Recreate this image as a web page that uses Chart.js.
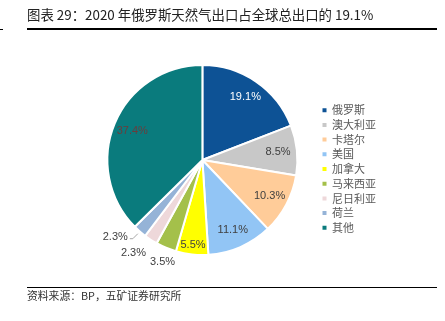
<!DOCTYPE html>
<html>
<head>
<meta charset="utf-8">
<script src="https://cdn.jsdelivr.net/npm/chart.js@4"></script>
<style>
  body { margin: 0; width: 445px; height: 321px; background: #fff; position: relative; overflow: hidden;
         font-family: "Noto Sans CJK SC", "Liberation Sans", sans-serif; }
  #chart { position: absolute; left: 0; top: 0; }
  #title { position: absolute; left: 27px; top: 6px; font-size: 13.4px; line-height: 17px; color: #222; white-space: nowrap; }
  #source { position: absolute; left: 27px; top: 288px; font-size: 10.8px; line-height: 15px; color: #333; white-space: nowrap; }
  .rule { position: absolute; background: #000; }
</style>
</head>
<body>
<canvas id="chart" width="445" height="321"></canvas>
<div id="title">图表 29：2020 年俄罗斯天然气出口占全球总出口的 19.1%</div>
<div class="rule" style="left:27px;top:28px;width:410px;height:1.5px"></div>
<div class="rule" style="left:0;top:29px;width:3px;height:1px"></div>
<div class="rule" style="left:27px;top:287px;width:410px;height:1px"></div>
<div id="source">资料来源：BP，五矿证券研究所</div>
<script>
const countries = ['俄罗斯', '澳大利亚', '卡塔尔', '美国', '加拿大', '马来西亚', '尼日利亚', '荷兰', '其他'];
const shares = [19.1, 8.5, 10.3, 11.1, 5.5, 3.5, 2.3, 2.3, 37.4];

const sliceColors = ['#0d5295', '#c8c8c8', '#ffcc99', '#92c5f5', '#ffff00', '#a4c04a', '#eed8da', '#95b3d7', '#0a7b7d'];
const labelColors = ['#ffffff', '#404040', '#404040', '#404040', '#404040', '#404040', '#404040', '#404040', '#6a3d3d'];

// percent labels: inside for big slices, outside for small ones.
// first collision pushes both labels apart, a further one gets a leader line
const pctLabels = {
  id: 'pctLabels',
  afterDatasetsDraw(chart) {
    const ctx = chart.ctx;
    const arcs = chart.getDatasetMeta(0).data;
    ctx.save();
    ctx.font = '11px "Liberation Sans", Arial, sans-serif';
    ctx.textAlign = 'center';
    ctx.textBaseline = 'middle';
    const outside = [];
    arcs.forEach((arc, i) => {
      const { x, y, startAngle, endAngle, outerRadius } =
        arc.getProps(['x', 'y', 'startAngle', 'endAngle', 'outerRadius'], true);
      const mid = (startAngle + endAngle) / 2;
      const cos = Math.cos(mid), sin = Math.sin(mid);
      const text = shares[i].toFixed(1) + '%';
      const w = ctx.measureText(text).width, h = 11;

      if (shares[i] >= 5) {
        const r = outerRadius * (shares[i] < 8 ? 0.9 : 0.8);
        ctx.fillStyle = labelColors[i];
        ctx.fillText(text, x + cos * r, y + sin * r);
        return;
      }

      const lab = {
        i, text, w,
        x: x + cos * (outerRadius + 10) + cos * w / 2,
        y: y + sin * (outerRadius + 10) + sin * h / 2,
        pushed: false, leader: null
      };
      const prev = outside[outside.length - 1];
      if (prev && Math.abs(lab.x - prev.x) < (w + prev.w) / 2 + 2 && Math.abs(lab.y - prev.y) < h) {
        if (!prev.pushed) {
          const need = (w + prev.w) / 2 + 4 - Math.abs(lab.x - prev.x);
          const dir = lab.x < prev.x ? -1 : 1;
          lab.x += dir * need / 2;
          prev.x -= dir * need / 2;
          lab.pushed = prev.pushed = true;
        } else {
          const ex = x + cos * (outerRadius + 3), ey = y + sin * (outerRadius + 3);
          lab.x = ex - 10 - w / 2;
          lab.y = ey + 3;
          lab.leader = [[ex, ey], [ex - 5, lab.y + 2], [lab.x + w / 2 + 2, lab.y + 2]];
        }
      }
      outside.push(lab);
    });
    outside.forEach(lab => {
      if (lab.leader) {
        ctx.strokeStyle = '#a6a6a6';
        ctx.lineWidth = 1;
        ctx.beginPath();
        lab.leader.forEach((p, k) => k ? ctx.lineTo(p[0], p[1]) : ctx.moveTo(p[0], p[1]));
        ctx.stroke();
      }
      ctx.fillStyle = labelColors[lab.i];
      ctx.fillText(lab.text, lab.x, lab.y);
    });
    ctx.restore();
  }
};

new Chart(document.getElementById('chart'), {
  type: 'pie',
  data: {
    labels: countries,
    datasets: [{
      data: shares,
      backgroundColor: sliceColors,
      borderColor: '#ffffff',
      borderWidth: 2,
      hoverOffset: 0
    }]
  },
  options: {
    responsive: false,
    animation: false,
    layout: { padding: { left: 86, right: 59, top: 64, bottom: 65 } },
    plugins: {
      tooltip: { enabled: false },
      legend: {
        position: 'right',
        title: { display: true, text: '', font: { size: 15, lineHeight: 1.2 }, padding: 0 },
        labels: {
          boxWidth: 4,
          boxHeight: 4,
          padding: 3.7,
          font: { size: 11, family: '"Noto Sans CJK SC", sans-serif' },
          generateLabels: chart => chart.data.labels.map((t, i) => ({
            text: t,
            fillStyle: sliceColors[i],
            strokeStyle: sliceColors[i],
            lineWidth: 0,
            fontColor: '#595959',
            hidden: false,
            index: i
          }))
        }
      }
    }
  },
  plugins: [pctLabels]
});
</script>
</body>
</html>
